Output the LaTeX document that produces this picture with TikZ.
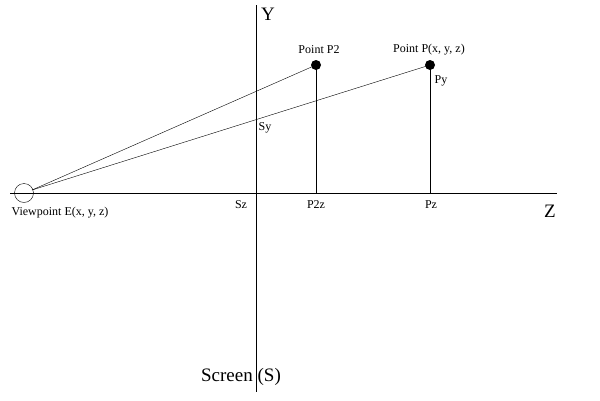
\documentclass[tikz,border=0pt]{standalone}
\usepackage{fontspec}
\setmainfont{Liberation Serif}
\begin{document}
\begin{tikzpicture}[x=1pt,y=-1pt,thin,
  lbl/.style={font=\fontsize{12}{13}\selectfont,inner sep=1pt},
  big/.style={font=\fontsize{19}{20}\selectfont,inner sep=1pt},
  dot/.style={circle,fill=black,inner sep=0pt,minimum size=10pt}]
  \useasboundingbox (0,0) rectangle (600,400);
  % axes
  \coordinate (ytop) at (256,5);
  \coordinate (ybot) at (256,392);
  \coordinate (zl) at (10,193);
  \coordinate (zr) at (557,193);
  \draw (ytop) -- (ybot);
  \draw (zl) -- (zr);
  % viewpoint and points
  \node (E) [circle,draw,inner sep=0pt,minimum size=19pt] at (24,193) {};
  \node (P2) [dot] at (316,65) {};
  \node (P) [dot] at (430,65) {};
  \coordinate (P2z) at (316,193);
  \coordinate (Pz) at (430,193);
  \path (E.center) ++(8,-3) coordinate (e);
  \draw (e) -- (P2.center);
  \draw (e) -- (P.center);
  \draw (P2.center) -- (P2z);
  \draw (P.center) -- (Pz);
  % labels
  \node [big] at (268,14) {Y};
  \node [big] at (550,211) {Z};
  \node [big] at (241,377) {Screen (S)};
  \node [lbl] at (319,50) {Point P2};
  \node [lbl] at (429,50) {Point P(x, y, z)};
  \node [lbl] at (441,81) {Py};
  \node [lbl] at (265,128) {Sy};
  \node [lbl] at (241,205) {Sz};
  \node [lbl] at (316,205) {P2z};
  \node [lbl] at (431,205) {Pz};
  \node [lbl] at (60,213) {Viewpoint E(x, y, z)};
\end{tikzpicture}
\end{document}
